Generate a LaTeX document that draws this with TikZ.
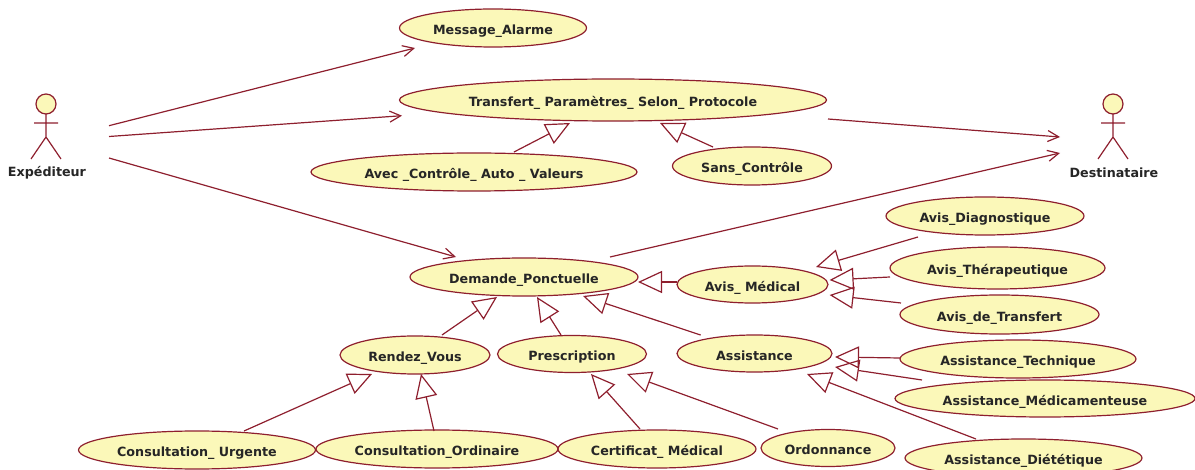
\documentclass[tikz,border=0pt]{standalone}
\usepackage{fontspec}
\setmainfont{DejaVu Sans}
\usetikzlibrary{shapes,arrows.meta,calc}
\definecolor{umlline}{HTML}{8E1F2E}
\definecolor{umlfill}{HTML}{FBF8B9}
\tikzset{usecase/.style 2 args={ellipse,draw=umlline,fill=umlfill,line width=1.2pt,inner sep=0pt,
    minimum width=#1pt,minimum height=#2pt,text=black!85,text height=13.5pt,text depth=0pt,
    font=\fontsize{12.7}{14}\selectfont\bfseries},
  actorbox/.style 2 args={rectangle,inner sep=0pt,minimum width=#1pt,minimum height=#2pt},
  actorfig/.pic={
    \draw[umlline,fill=umlfill,line width=1.2pt] (0,-19) circle [radius=10];
    \draw[umlline,line width=1.2pt] (0,-9)--(0,14) (-12,0)--(12,0) (-15,36)--(0,14)--(15,36);
  }}
\begin{document}
\begin{tikzpicture}[x=1pt,y=-1pt,line width=1.2pt]
\tikzstyle{assoc}=[draw=umlline,-{Straight Barb[length=11pt,width=11pt]}]
\tikzstyle{gener}=[draw=umlline,-{Triangle[open,length=24pt,width=22pt]}]
\tikzstyle{actorname}=[text=black!85,font=\fontsize{12.7}{14}\selectfont\bfseries]
\useasboundingbox (0,0) rectangle (1195,470);
% actors
\pic at (46,123) {actorfig};
\pic at (1113,123) {actorfig};
\node[actorbox={78}{66}] (Expediteur) at (70,127) {};
\node[actorbox={68}{66}] (Destinataire) at (1094,127) {};
\node[actorname] (ExpediteurName) at (47,173) {Expéditeur};
\node[actorname] (DestinataireName) at (1114,173) {Destinataire};
% use cases
\node[usecase={187}{38}] (Message) at (493,28) {Message\_Alarme};
\node[usecase={427}{42}] (Transfert) at (613,100) {Transfert\_ Paramètres\_ Selon\_ Protocole};
\node[usecase={326}{38}] (AvecControle) at (474,172) {Avec \_Contrôle\_ Auto \_ Valeurs};
\node[usecase={159}{38}] (SansControle) at (752,166) {Sans\_Contrôle};
\node[usecase={228}{38}] (Demande) at (524,277) {Demande\_Ponctuelle};
\node[usecase={151}{37}] (AvisMedical) at (752.5,284.5) {Avis\_ Médical};
\node[usecase={198}{38}] (AvisDiag) at (985,216) {Avis\_Diagnostique};
\node[usecase={215}{42}] (AvisThera) at (997.5,268) {Avis\_Thérapeutique};
\node[usecase={199}{39}] (AvisTransfert) at (999.5,314.5) {Avis\_de\_Transfert};
\node[usecase={150}{38}] (RendezVous) at (415,355) {Rendez\_Vous};
\node[usecase={149}{37}] (Prescription) at (572,354) {Prescription};
\node[usecase={155}{37}] (Assistance) at (754.5,353.5) {Assistance};
\node[usecase={236}{38}] (AssistTech) at (1018,359) {Assistance\_Technique};
\node[usecase={300}{37}] (AssistMedic) at (1045,398.5) {Assistance\_Médicamenteuse};
\node[usecase={237}{38}] (AssistDiet) at (1023.5,458) {Assistance\_Diététique};
\node[usecase={237}{38}] (ConsUrgente) at (197,450) {Consultation\_ Urgente};
\node[usecase={242}{38}] (ConsOrdinaire) at (437,449) {Consultation\_Ordinaire};
\node[usecase={198}{38}] (Certificat) at (657,449) {Certificat\_ Médical};
\node[usecase={134}{37}] (Ordonnance) at (828,448) {Ordonnance};
% associations
\draw[assoc] ($(Expediteur)+(39,-1.3)$) -- ($(Message)+(-78,20)$);
\draw[assoc] ($(Expediteur)+(39,9.5)$) -- ($(Transfert)+(-211,15.7)$);
\draw[assoc] ($(Expediteur)+(39,31)$) -- ($(Demande)+(-68,-20)$);
\draw[assoc] ($(Transfert)+(215,19)$) -- ($(Destinataire)+(-34,10)$);
\draw[assoc] ($(Demande)+(86,-20)$) -- ($(Destinataire)+(-34,26)$);
% generalisations
\draw[gener] ($(AvecControle)+(40,-20)$) -- ($(Transfert)+(-43,23)$);
\draw[gener] ($(SansControle)+(-39,-19)$) -- ($(Transfert)+(47,23)$);
\draw[gener] ($(RendezVous)+(27,-20)$) -- ($(Demande)+(-27,20)$);
\draw[gener] ($(Prescription)+(-11,-19)$) -- ($(Demande)+(13,20)$);
\draw[gener] ($(Assistance)+(-53.9,-18.5)$) -- ($(Demande)+(59,19)$);
\draw[gener] ($(AvisMedical)+(-75.5,-2.5)$) -- ($(Demande)+(114,5)$);
\draw[gener] ($(AvisDiag)+(-67,21)$) -- ($(AvisMedical)+(63.5,-17.5)$);
\draw[gener] ($(AvisThera)+(-107.5,9)$) -- ($(AvisMedical)+(77.1,-4.5)$);
\draw[gener] ($(AvisTransfert)+(-98.5,-11.5)$) -- ($(AvisMedical)+(77.1,10.5)$);
\draw[gener] ($(AssistTech)+(-118,-1)$) -- ($(Assistance)+(80.5,3.5)$);
\draw[gener] ($(AssistMedic)+(-123,-18.5)$) -- ($(Assistance)+(80.5,13.5)$);
\draw[gener] ($(AssistDiet)+(-47.5,-19)$) -- ($(Assistance)+(52.5,20.5)$);
\draw[gener] ($(Certificat)+(-17,-20)$) -- ($(Prescription)+(19,20)$);
\draw[gener] ($(Ordonnance)+(-50,-19)$) -- ($(Prescription)+(55,20)$);
\draw[gener] ($(ConsOrdinaire)+(-3,-18)$) -- ($(RendezVous)+(6,19)$);
\draw[gener] ($(ConsUrgente)+(47,-19)$) -- ($(RendezVous)+(-43,19)$);
\end{tikzpicture}
\end{document}
